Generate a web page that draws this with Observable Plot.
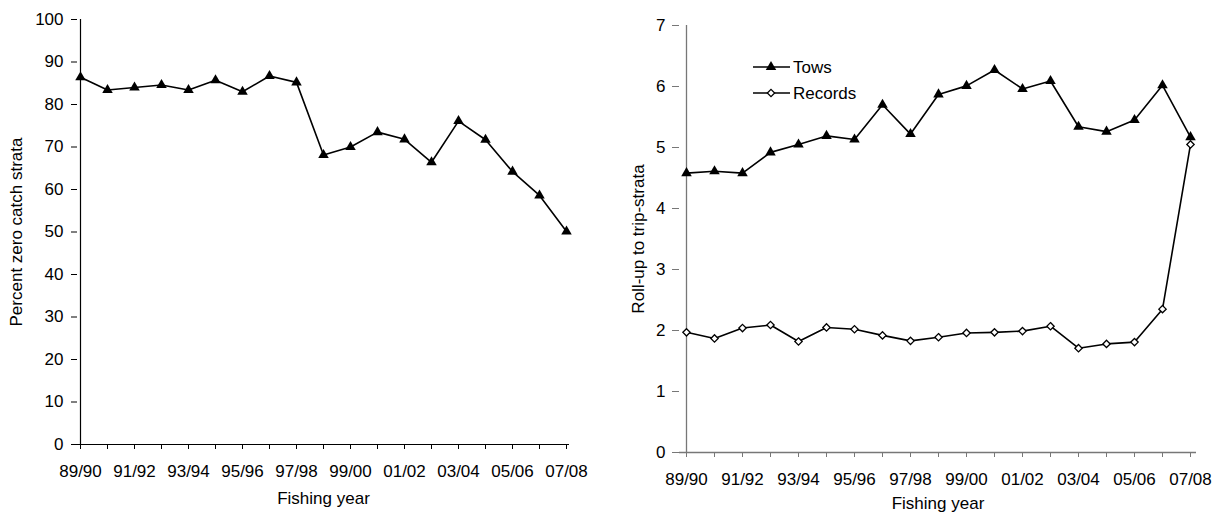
<!DOCTYPE html>
<html>
<head>
<meta charset="utf-8">
<script src="https://cdn.jsdelivr.net/npm/d3@7"></script>
<script src="https://cdn.jsdelivr.net/npm/@observablehq/plot@0.6"></script>
<style>
  body { margin: 0; background: #fff; }
  #wrap { position: relative; width: 1221px; height: 514px; overflow: hidden; background: #fff;
          font-family: "Liberation Sans", Arial, sans-serif; }
  #wrap > svg { position: absolute; top: 0; }
</style>
</head>
<body>
<div id="wrap"></div>
<script>
// Fishing years on the x axis
const years = ["89/90","90/91","91/92","92/93","93/94","94/95","95/96","96/97","97/98","98/99",
               "99/00","00/01","01/02","02/03","03/04","04/05","05/06","06/07","07/08"];
// Tick labels shown (every second year)
const labelledYears = ["89/90","91/92","93/94","95/96","97/98","99/00","01/02","03/04","05/06","07/08"];

// Percent of strata with zero catch
const zeroCatchPct = [86.4, 83.4, 84.0, 84.6, 83.4, 85.7, 83.0, 86.7, 85.2, 68.1,
                      70.0, 73.5, 71.8, 66.4, 76.1, 71.7, 64.2, 58.6, 50.1];
// Roll-up to trip-strata: tows per stratum
const tows = [4.58, 4.61, 4.58, 4.92, 5.05, 5.19, 5.13, 5.70, 5.22, 5.87,
              6.01, 6.27, 5.96, 6.09, 5.34, 5.26, 5.45, 6.02, 5.17];
// Roll-up to trip-strata: records per stratum
const records = [1.97, 1.87, 2.04, 2.09, 1.82, 2.05, 2.02, 1.92, 1.83, 1.89,
                 1.96, 1.97, 1.99, 2.07, 1.71, 1.78, 1.81, 2.35, 5.05];

const leftData = years.map((year, i) => ({year, value: zeroCatchPct[i]}));
const towsData = years.map((year, i) => ({year, value: tows[i]}));
const recordsData = years.map((year, i) => ({year, value: records[i]}));

const font = "Liberation Sans, Arial, sans-serif";
const fontSize = 17;
const fmtYear = d => labelledYears.includes(d) ? d : "";

const wrap = document.getElementById("wrap");

// Left panel: percent zero catch strata
const left = Plot.plot({
  width: 610, height: 514,
  marginLeft: 77, marginRight: 41, marginTop: 19, marginBottom: 70,
  style: {fontFamily: font, fontSize: fontSize + "px", color: "#000", background: "transparent"},
  x: {type: "point", domain: years, padding: 0},
  y: {domain: [0, 100]},
  marks: [
    Plot.axisY({ticks: d3.range(0, 101, 10), tickSize: 6, tickPadding: 8, label: null,
      stroke: "#000", fontSize}),
    Plot.axisX({ticks: years, tickSize: 5, tickPadding: 15, tickFormat: fmtYear, label: null,
      stroke: "#000", fontSize}),
    Plot.ruleY([0], {stroke: "#000", strokeWidth: 1.2}),
    Plot.ruleX([years[0]], {stroke: "#000", strokeWidth: 1.2}),
    Plot.line(leftData, {x: "year", y: "value", stroke: "#000", strokeWidth: 1.6}),
    Plot.dot(leftData, {x: "year", y: "value", symbol: "triangle", fill: "#000", stroke: "none", r: 3.9}),
    Plot.text(["Percent zero catch strata"], {frameAnchor: "left", rotate: -90, dx: -61,
      textAnchor: "middle", lineAnchor: "middle", fill: "#000", fontSize}),
    Plot.text(["Fishing year"], {frameAnchor: "bottom", dy: 54, lineAnchor: "middle", fill: "#000", fontSize})
  ]
});
left.style.left = "0px";
wrap.appendChild(left);

// Right panel: roll-up to trip-strata for tows and records
const right = Plot.plot({
  width: 611, height: 514,
  marginLeft: 69, marginRight: 25, marginTop: 25, marginBottom: 62,
  style: {fontFamily: font, fontSize: fontSize + "px", color: "#000", background: "transparent"},
  x: {type: "point", domain: years, padding: 0},
  y: {domain: [0, 7]},
  marks: [
    Plot.axisY({ticks: d3.range(0, 8), tickSize: 7, tickPadding: 7, tickFormat: d3.format("d"),
      label: null, stroke: "#777", fontSize}),
    Plot.axisX({ticks: years, tickSize: 5, tickPadding: 15, tickFormat: fmtYear, label: null,
      stroke: "#777", fontSize}),
    Plot.ruleY([0], {stroke: "#777", strokeWidth: 1.3}),
    Plot.ruleX([years[0]], {stroke: "#777", strokeWidth: 1.3}),
    Plot.line(towsData, {x: "year", y: "value", stroke: "#000", strokeWidth: 1.6}),
    Plot.line(recordsData, {x: "year", y: "value", stroke: "#000", strokeWidth: 1.6}),
    Plot.dot(towsData, {x: "year", y: "value", symbol: "triangle", fill: "#000", stroke: "none", r: 3.9}),
    Plot.dot(recordsData, {x: "year", y: "value", symbol: "diamond2", fill: "#fff", stroke: "#000",
      strokeWidth: 1.3, r: 3.3}),
    Plot.text(["Roll-up to trip-strata"], {frameAnchor: "left", rotate: -90, dx: -41,
      textAnchor: "middle", lineAnchor: "middle", fill: "#000", fontSize}),
    Plot.text(["Fishing year"], {frameAnchor: "bottom", dy: 51, lineAnchor: "middle", fill: "#000", fontSize})
  ]
});
right.style.left = "610px";
wrap.appendChild(right);

// Legend for the right panel
const legendItems = [
  {name: "Tows", symbol: d3.symbolTriangle, r: 3.9, fill: "#000", stroke: "none"},
  {name: "Records", symbol: d3.symbolDiamond2, r: 3.3, fill: "#fff", stroke: "#000"}
];
const legend = d3.create("svg")
  .attr("width", 130).attr("height", 60)
  .style("left", "748px").style("top", "50px")
  .attr("font-family", font).attr("font-size", fontSize);
const rows = legend.selectAll("g").data(legendItems).join("g")
  .attr("transform", (d, i) => `translate(0,${17 + i * 26})`);
rows.append("line").attr("x1", 5).attr("x2", 42).attr("stroke", "#000").attr("stroke-width", 1.6);
rows.append("path")
  .attr("transform", "translate(23,0)")
  .attr("d", d => d3.symbol(d.symbol, Math.PI * d.r * d.r)())
  .attr("fill", d => d.fill).attr("stroke", d => d.stroke).attr("stroke-width", 1.3);
rows.append("text").attr("x", 45).attr("dy", "0.35em").text(d => d.name);
wrap.appendChild(legend.node());
</script>
</body>
</html>
